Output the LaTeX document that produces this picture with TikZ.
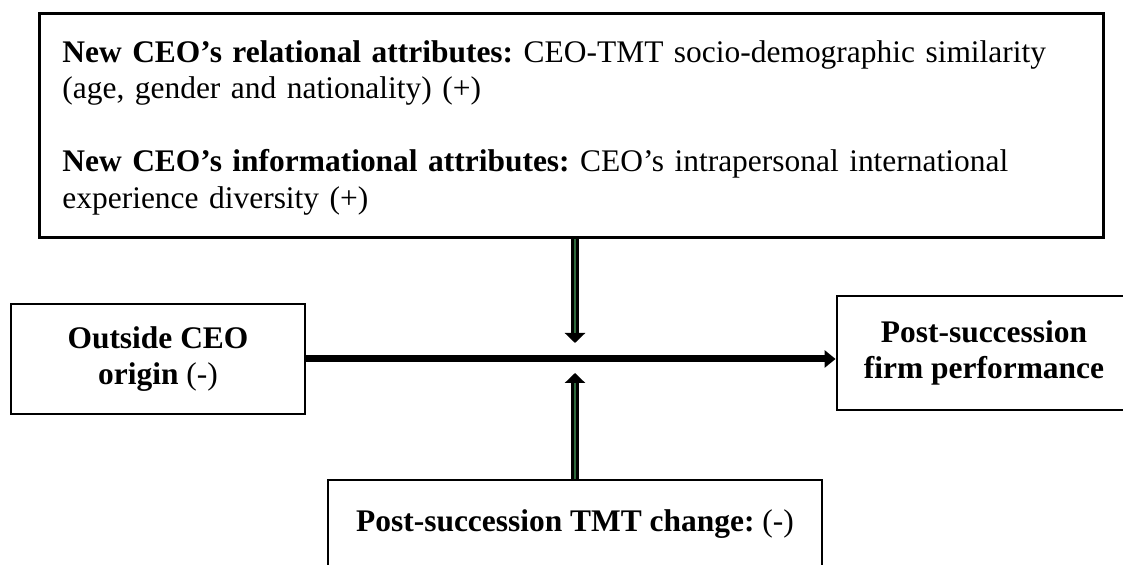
\documentclass[tikz,border=0pt]{standalone}
\usepackage{fontspec}
\setmainfont{Liberation Serif}
\usetikzlibrary{arrows.meta, positioning}

\definecolor{stemgreen}{RGB}{45,105,60}

\begin{document}
\begin{tikzpicture}[
    factor/.style={draw, line width=1.6pt, inner sep=0pt, align=center,
        font=\fontsize{17.9pt}{20.8pt}\selectfont\frenchspacing},
    mainarrow/.style={line width=0.14cm, -{Triangle[width=0.34cm,length=0.22cm]}},
    modarrow/.style={line width=0.17cm, -{Triangle[width=0.40cm,length=0.20cm]}},
    stem/.style={stemgreen, line width=0.03cm}
]
    \path[use as bounding box] (0,0) rectangle (22.46,11.30);
    \clip (0,0) rectangle (22.46,11.30);

    %% moderators on top
    \node[factor, anchor=north west, text width=20.36cm, align=left, inner sep=0.46cm]
        (moderators) at (0.76,11.06)
        {\rule{0pt}{0.52cm}\textbf{New CEO’s relational attributes:} CEO-TMT socio-demographic similarity\\
         (age, gender and nationality) (+)\\[0.72cm]
         \textbf{New CEO’s informational attributes:} CEO’s intrapersonal international\\
         experience diversity (+)};

    \node[factor, minimum width=5.88cm, minimum height=2.20cm] (origin) at (3.16,4.12)
        {\textbf{Outside CEO}\\\textbf{origin} (-)};
    \node[factor, minimum width=5.88cm, minimum height=2.28cm] (performance) at (19.68,4.24)
        {\textbf{Post-succession}\\\textbf{firm performance}};
    \node[factor, minimum width=9.88cm, minimum height=1.76cm] (tmtchange) at (11.50,0.82)
        {\textbf{Post-succession TMT change:} (-)};

    \coordinate (junction) at (11.50,4.12);
    \coordinate (downtip) at (11.50,4.44);
    \coordinate (uptip) at (11.50,3.84);

    %% main effect
    \draw[mainarrow] (origin.east) -- (origin.east -| performance.west);

    %% moderating effects
    \draw[modarrow] (moderators.south -| junction) -- (downtip);
    \draw[stem] (moderators.south -| junction) -- ([yshift=0.20cm]downtip);
    \draw[modarrow] (tmtchange.north -| junction) -- (uptip);
    \draw[stem] (tmtchange.north -| junction) -- ([yshift=-0.20cm]uptip);
\end{tikzpicture}
\end{document}
